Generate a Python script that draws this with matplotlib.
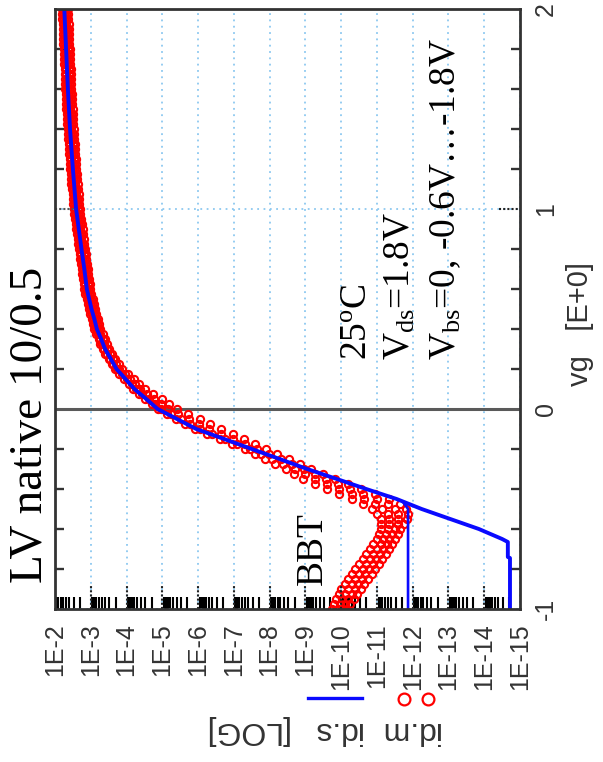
import numpy as np
import matplotlib
matplotlib.use("Agg")
import matplotlib.pyplot as plt
from matplotlib.lines import Line2D
from matplotlib.ticker import FixedLocator, MultipleLocator, LogLocator, NullFormatter

plt.rcParams.update({
    "font.family": ["Liberation Sans", "DejaVu Sans"],
    "mathtext.fontset": "custom",
    "mathtext.rm": "Liberation Serif",
    "mathtext.it": "Liberation Serif:italic",
})

# ---------------------------------------------------------------------------
# data (log10 of drain current vs gate voltage)
# ---------------------------------------------------------------------------
VG_SWEEP = [
    -1.000, -0.975, -0.950, -0.925, -0.900, -0.875, -0.850, -0.825, -0.800, -0.775,
    -0.750, -0.725, -0.700, -0.675, -0.650, -0.625, -0.600, -0.575, -0.550, -0.525,
    -0.500, -0.475, -0.450, -0.425, -0.400, -0.375, -0.350, -0.325, -0.300, -0.275,
    -0.250, -0.225, -0.200, -0.175, -0.150, -0.125, -0.100, -0.075, -0.050, -0.025,
    0.000, 0.025, 0.050, 0.075, 0.100, 0.125, 0.150, 0.175, 0.200, 0.225,
    0.250, 0.275, 0.300, 0.325, 0.350, 0.375, 0.400, 0.425, 0.450, 0.475,
    0.500, 0.525, 0.550, 0.575, 0.600, 0.625, 0.650, 0.675, 0.700, 0.725,
    0.750, 0.775, 0.800, 0.825, 0.850, 0.875, 0.900, 0.925, 0.950, 0.975,
    1.000, 1.025, 1.050, 1.075, 1.100, 1.125, 1.150, 1.175, 1.200, 1.225,
    1.250, 1.275, 1.300, 1.325, 1.350, 1.375, 1.400, 1.425, 1.450, 1.475,
    1.500, 1.525, 1.550, 1.575, 1.600, 1.625, 1.650, 1.675, 1.700, 1.725,
    1.750, 1.775, 1.800, 1.825, 1.850, 1.875, 1.900, 1.925, 1.950, 1.975,
    2.000,
]

# measured id.m, Vbs = 0, -0.6, -1.2, -1.8 V
IDM_VBS0 = [
    -9.75, -9.80, -9.85, -9.93, -10.00, -10.10, -10.20, -10.30, -10.40, -10.50,
    -10.60, -10.70, -10.80, -10.90, -11.00, -11.05, -11.10, -11.12, -11.10, -11.00,
    -10.85, -10.60, -10.30, -9.95, -9.60, -9.26, -8.93, -8.68, -8.45, -8.16,
    -7.88, -7.59, -7.30, -6.95, -6.60, -6.25, -5.90, -5.64, -5.38, -5.13,
    -4.87, -4.70, -4.53, -4.36, -4.19, -4.06, -3.93, -3.80, -3.67, -3.58,
    -3.50, -3.41, -3.33, -3.27, -3.22, -3.16, -3.10, -3.06, -3.03, -2.99,
    -2.95, -2.92, -2.89, -2.85, -2.82, -2.80, -2.78, -2.76, -2.75, -2.73,
    -2.71, -2.69, -2.67, -2.65, -2.63, -2.61, -2.60, -2.58, -2.56, -2.54,
    -2.52, -2.51, -2.50, -2.49, -2.48, -2.46, -2.45, -2.44, -2.43, -2.42,
    -2.41, -2.40, -2.39, -2.38, -2.37, -2.36, -2.35, -2.34, -2.34, -2.33,
    -2.32, -2.31, -2.31, -2.30, -2.29, -2.28, -2.28, -2.27, -2.27, -2.26,
    -2.25, -2.25, -2.24, -2.23, -2.23, -2.22, -2.22, -2.21, -2.20, -2.20,
    -2.19,
]
IDM_VBS06 = [
    -9.90, -9.97, -10.03, -10.12, -10.20, -10.30, -10.40, -10.50, -10.60, -10.70,
    -10.80, -10.90, -11.00, -11.10, -11.18, -11.25, -11.30, -11.35, -11.35, -11.30,
    -11.15, -10.95, -10.65, -10.30, -9.95, -9.61, -9.28, -8.98, -8.70, -8.38,
    -8.08, -7.76, -7.45, -7.10, -6.76, -6.40, -6.05, -5.78, -5.51, -5.24,
    -4.97, -4.80, -4.63, -4.44, -4.27, -4.14, -4.00, -3.86, -3.72, -3.63,
    -3.55, -3.46, -3.38, -3.32, -3.27, -3.21, -3.15, -3.11, -3.08, -3.04,
    -3.00, -2.97, -2.94, -2.90, -2.87, -2.85, -2.83, -2.81, -2.80, -2.78,
    -2.76, -2.74, -2.72, -2.70, -2.68, -2.66, -2.65, -2.63, -2.61, -2.59,
    -2.57, -2.56, -2.55, -2.54, -2.53, -2.51, -2.50, -2.49, -2.48, -2.47,
    -2.46, -2.45, -2.44, -2.43, -2.42, -2.41, -2.40, -2.39, -2.39, -2.38,
    -2.37, -2.36, -2.36, -2.35, -2.34, -2.33, -2.33, -2.32, -2.32, -2.31,
    -2.30, -2.30, -2.29, -2.28, -2.28, -2.27, -2.27, -2.26, -2.25, -2.25,
    -2.24,
]
IDM_VBS12 = [
    -10.03, -10.12, -10.20, -10.30, -10.38, -10.48, -10.58, -10.68, -10.78, -10.88,
    -10.98, -11.08, -11.18, -11.27, -11.35, -11.42, -11.50, -11.58, -11.60, -11.60,
    -11.50, -11.30, -11.00, -10.60, -10.25, -9.91, -9.58, -9.26, -8.95, -8.62,
    -8.31, -7.98, -7.65, -7.31, -6.98, -6.64, -6.30, -6.02, -5.74, -5.45,
    -5.17, -4.97, -4.78, -4.57, -4.37, -4.23, -4.09, -3.95, -3.80, -3.71,
    -3.62, -3.53, -3.44, -3.38, -3.33, -3.27, -3.21, -3.17, -3.14, -3.10,
    -3.06, -3.03, -3.00, -2.96, -2.93, -2.91, -2.89, -2.87, -2.86, -2.84,
    -2.82, -2.80, -2.78, -2.76, -2.74, -2.72, -2.71, -2.69, -2.67, -2.65,
    -2.63, -2.62, -2.61, -2.60, -2.59, -2.57, -2.56, -2.55, -2.54, -2.53,
    -2.52, -2.51, -2.50, -2.49, -2.48, -2.47, -2.46, -2.45, -2.45, -2.44,
    -2.43, -2.42, -2.42, -2.41, -2.40, -2.39, -2.39, -2.38, -2.38, -2.37,
    -2.36, -2.36, -2.35, -2.34, -2.34, -2.33, -2.33, -2.32, -2.31, -2.31,
    -2.30,
]
IDM_VBS18 = [
    -10.15, -10.25, -10.35, -10.45, -10.55, -10.65, -10.75, -10.85, -10.95, -11.05,
    -11.15, -11.25, -11.35, -11.42, -11.50, -11.58, -11.65, -11.75, -11.85, -11.87,
    -11.80, -11.65, -11.35, -10.95, -10.55, -10.19, -9.83, -9.49, -9.15, -8.84,
    -8.53, -8.22, -7.90, -7.59, -7.28, -6.97, -6.65, -6.34, -6.04, -5.73,
    -5.42, -5.20, -4.98, -4.74, -4.52, -4.36, -4.20, -4.04, -3.87, -3.78,
    -3.69, -3.59, -3.50, -3.44, -3.39, -3.33, -3.27, -3.23, -3.20, -3.16,
    -3.12, -3.09, -3.06, -3.02, -2.99, -2.97, -2.95, -2.93, -2.92, -2.90,
    -2.88, -2.86, -2.84, -2.82, -2.80, -2.78, -2.77, -2.75, -2.73, -2.71,
    -2.69, -2.68, -2.67, -2.66, -2.65, -2.63, -2.62, -2.61, -2.60, -2.59,
    -2.58, -2.57, -2.56, -2.55, -2.54, -2.53, -2.52, -2.51, -2.51, -2.50,
    -2.49, -2.48, -2.48, -2.47, -2.46, -2.45, -2.45, -2.44, -2.44, -2.43,
    -2.42, -2.42, -2.41, -2.40, -2.40, -2.39, -2.39, -2.38, -2.37, -2.37,
    -2.36,
]
IDM_CURVES = [IDM_VBS0, IDM_VBS06, IDM_VBS12, IDM_VBS18]

# simulated id.s
IDS_VG = [-1.0, -0.745, -0.74, -0.665, -0.65, -0.6, -0.55, -0.5, -0.45, -0.4,
          -0.35, -0.3, -0.25, -0.2, -0.15, -0.1, -0.05, 0.0, 0.05, 0.1,
          0.15, 0.2, 0.25, 0.3, 0.35, 0.4, 0.45, 0.5, 0.6, 0.7,
          0.8, 1.0, 1.2, 1.4, 1.6, 1.8, 2.0]
IDS_LOG = [-14.72, -14.72, -14.66, -14.66, -14.50, -13.85, -13.05, -12.25, -11.55, -10.70,
           -9.88, -9.05, -8.28, -7.50, -6.73, -5.95, -5.41, -4.87, -4.55, -4.22,
           -3.97, -3.72, -3.56, -3.40, -3.29, -3.17, -3.10, -3.02, -2.89, -2.82,
           -2.74, -2.59, -2.50, -2.42, -2.36, -2.31, -2.26]
IDS_FLOOR_VG = [-1.0, -0.50, -0.47]
IDS_FLOOR_LOG = [-11.87, -11.87, -11.75]

DECADES = [-2, -3, -4, -5, -6, -7, -8, -9, -10, -11, -12, -13, -14, -15]
DECADE_LABELS = ["1E-2", "1E-3", "1E-4", "1E-5", "1E-6", "1E-7", "1E-8",
                 "1E-9", "1E-10", "1E-11", "1E-12", "1E-13", "1E-14", "1E-15"]
VG_TICKS = [-1, 0, 1, 2]
VG_LABELS = ["-1", "0", "1", "2"]

W, H = 603, 762
BLUE = "#0a0aff"
RED = "#ff0000"
GRID = "#8cc8f0"
INK = "#333333"
SERIF = ["Liberation Serif", "DejaVu Serif"]


def fxy(x, y):
    # pixel position of the picture -> figure fraction
    return x / W, 1 - y / H


fig = plt.figure(figsize=(W / 100, H / 100), dpi=100)
ax = fig.add_axes([55 / W, 1 - 609 / H, 465 / W, 600 / H])

for curve in IDM_CURVES:
    ax.plot(10.0 ** np.array(curve), VG_SWEEP, ls="none", marker="o", ms=5.2,
            mfc="none", mec=RED, mew=1.5, zorder=2)
ax.plot(10.0 ** np.array(IDS_LOG), IDS_VG, color=BLUE, lw=2.8, zorder=3)
ax.plot(10.0 ** np.array(IDS_FLOOR_LOG), IDS_FLOOR_VG, color=BLUE, lw=1.9, zorder=3)

ax.set_xscale("log")
ax.set_xlim(1e-2, 1e-15)
ax.set_ylim(-1, 2)

ax.xaxis.set_major_locator(FixedLocator(10.0 ** np.array(DECADES, dtype=float)))
ax.set_xticklabels(DECADE_LABELS)
ax.xaxis.set_minor_locator(LogLocator(base=10, subs=np.arange(2, 10), numticks=300))
ax.xaxis.set_minor_formatter(NullFormatter())
ax.set_yticks(VG_TICKS, VG_LABELS)
ax.yaxis.set_minor_locator(MultipleLocator(0.2))

ax.tick_params(axis="x", which="major", length=0, pad=10, labelsize=18,
               labelcolor=INK, labelrotation=90)
ax.tick_params(axis="x", which="minor", direction="in", length=9, width=1.5,
               color="black", top=False, bottom=True)
ax.tick_params(axis="y", which="major", length=0, left=False, right=True,
               labelleft=False, labelright=True, pad=10, labelsize=18,
               labelcolor=INK, labelrotation=90)
ax.tick_params(axis="y", which="minor", direction="in", length=6.5, width=1.7,
               color=INK, left=True, right=True)
for lab in ax.get_yticklabels():
    lab.set_va("center")

ax.set_axisbelow(True)
ax.grid(True, which="major", color=GRID, ls=(0, (1, 2.5)), lw=1.3)
ax.axhline(0, color="#5a5a5a", lw=2.2, zorder=1.5)

# dark dotted major marks at the frame
ax.vlines(10.0 ** np.array(DECADES[1:-1], dtype=float), 0, 0.04,
          transform=ax.get_xaxis_transform(), colors="#222222",
          linestyles=(0, (1, 1)), lw=1.5, zorder=4)
ax.hlines(1, 0.955, 1.0, transform=ax.get_yaxis_transform(), colors="#222222",
          linestyles=(0, (1, 1)), lw=1.5, zorder=4)
ax.hlines(1, 0.0, 0.045, transform=ax.get_yaxis_transform(), colors="#555555",
          linestyles=(0, (1, 1)), lw=1.5, zorder=4)

for s in ax.spines.values():
    s.set_linewidth(2.0)
    s.set_color(INK)
    s.set_zorder(5)

# annotations (rotated like the picture)
txt = dict(rotation=90, rotation_mode="anchor", ha="left", va="baseline",
           family=SERIF, color="black")
fig.text(*fxy(42, 583), "LV native 10/0.5", fontsize=34, **txt)
fig.text(*fxy(322, 585), "BBT", fontsize=27, **txt)
fig.text(*fxy(367, 360), "25$^{\\rm o}$C", fontsize=27, **txt)
fig.text(*fxy(410, 360), "V$_{\\rm ds}$=1.8V", fontsize=27, **txt)
fig.text(*fxy(455, 360), "V$_{\\rm bs}$=0, -0.6V\u2026-1.8V", fontsize=27, **txt)

# axis titles
fig.text(*fxy(580, 324), "vg   [E+0]", rotation=90, ha="center", va="center",
         fontsize=21, color=INK)
lab = dict(rotation=180, ha="center", va="center", fontsize=23, color=INK)
fig.text(*fxy(245, 730), "[LOG]", **lab)
fig.text(*fxy(336, 730), "id.s", **lab)
fig.text(*fxy(409, 730), "id.m", **lab)

# legend keys beside the label
fig.add_artist(Line2D([308 / W, 362 / W], [1 - 698 / H] * 2, color=BLUE, lw=2.4))
fig.add_artist(Line2D([404 / W, 428 / W], [1 - 699 / H] * 2, ls="none", marker="o",
                      ms=8.5, mfc="none", mec=RED, mew=1.6))

fig.savefig("out.png", dpi=100)
